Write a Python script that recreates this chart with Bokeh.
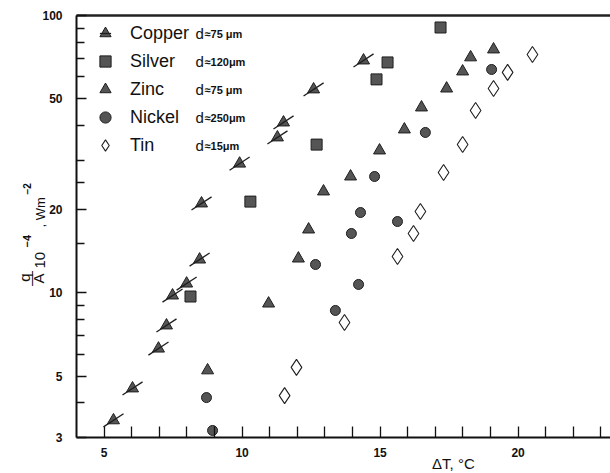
import math
from bokeh.plotting import figure
from bokeh.models import (Range1d, FixedTicker, LinearAxis, LogAxis, Label, Legend, LegendItem)
from bokeh.embed import file_html
from bokeh.resources import INLINE

# ---- data ----
copper_dt = [5.34, 6.03, 6.97, 7.26, 7.48, 7.99, 8.46, 8.53, 9.91, 11.28, 11.50, 12.59, 14.40]
copper_q = [3.46, 4.51, 6.28, 7.61, 9.76, 10.78, 13.16, 20.97, 29.2, 36.3, 41.1, 54.1, 68.8]

silver_dt = [8.13, 10.30, 12.70, 14.87, 15.27, 17.19]
silver_q = [9.68, 21.3, 34.2, 58.8, 67.7, 90.5]

zinc_dt = [8.75, 10.96, 12.04, 12.41, 12.95, 13.93, 14.98, 15.88, 16.50, 17.41, 17.99, 18.28, 19.11]
zinc_q = [5.24, 9.13, 13.27, 16.89, 23.17, 26.24, 32.57, 38.78, 46.56, 54.5, 62.8, 70.6, 75.4]

nickel_dt = [8.71, 8.93, 13.38, 14.22, 12.66, 13.96, 14.29, 15.63, 14.80, 16.64, 19.04]
nickel_q = [4.18, 3.18, 8.62, 10.70, 12.63, 16.34, 19.45, 18.05, 26.24, 37.83, 63.85]

tin_dt = [11.54, 11.97, 13.71, 15.63, 16.21, 16.46, 17.30, 17.99, 18.46, 19.11, 19.62, 20.52]
tin_q = [4.25, 5.37, 7.80, 13.50, 16.34, 19.62, 27.13, 34.23, 45.41, 54.5, 62.3, 72.3]

series_names = ["Copper", "Silver", "Zinc", "Nickel", "Tin"]
thickness_labels = ["75 μm", "120μm", "75 μm", "250μm", "15μm"]

x_ticks = [5, 10, 15, 20]
x_minor = [6, 7, 8, 9, 11, 12, 13, 14, 16, 17, 18, 19, 21, 22, 23]
y_ticks = [3, 5, 10, 20, 50, 100]
y_minor = [4, 6, 7, 8, 9, 15, 25, 30, 40, 60, 70, 80, 90]

X_MIN, X_MAX = 4.0, 23.35
Y_MIN, Y_MAX = 3, 100

FONT = "Liberation Sans"
FILL = "#555555"
EDGE = "#1e1e1e"
INK = "#111111"

# frame covers the whole canvas; axes are drawn at fixed data locations
p = figure(width=610, height=473, y_axis_type="log",
           x_range=Range1d(1.2464, 23.348), y_range=Range1d(2.2243, 113.25),
           x_axis_location=None, y_axis_location=None,
           output_backend="svg", toolbar_location=None,
           min_border_left=0, min_border_right=0,
           min_border_top=0, min_border_bottom=0)
p.outline_line_color = None
p.xgrid.visible = False
p.ygrid.visible = False
p.background_fill_color = "white"
p.border_fill_color = "white"

xa = LinearAxis(fixed_location=Y_MIN, bounds=(X_MIN, X_MAX),
                ticker=FixedTicker(ticks=x_ticks, minor_ticks=x_minor))
ya = LogAxis(fixed_location=X_MIN, bounds=(Y_MIN, Y_MAX),
             ticker=FixedTicker(ticks=y_ticks, minor_ticks=y_minor))
for ax in (xa, ya):
    ax.axis_line_width = 2
    ax.axis_line_color = INK
    ax.major_tick_out = 0
    ax.minor_tick_out = 0
    ax.major_tick_line_color = INK
    ax.minor_tick_line_color = INK
    ax.major_tick_line_width = 1.3
    ax.minor_tick_line_width = 1.3
    ax.major_label_text_font = FONT
    ax.major_label_text_font_style = "bold"
    ax.major_label_text_font_size = "12px"
    ax.major_label_text_color = INK
xa.major_tick_in = 11
xa.minor_tick_in = 11
xa.major_label_standoff = 11
ya.major_tick_in = 10
ya.minor_tick_in = 8
ya.major_label_standoff = 14
p.add_layout(xa, "below")
p.add_layout(ya, "left")

top = LinearAxis(fixed_location=Y_MAX, bounds=(X_MIN, X_MAX),
                 ticker=FixedTicker(ticks=[]), axis_line_width=2.5,
                 axis_line_color="#222222", major_tick_in=0, major_tick_out=0,
                 minor_tick_in=0, minor_tick_out=0, major_label_standoff=0)
p.add_layout(top, "above")

# data marks
r_cu = p.scatter(copper_dt, copper_q, marker="triangle", size=12,
                 fill_color=FILL, line_color=EDGE, line_width=1)
r_cu_l = p.scatter(copper_dt, copper_q, marker="dash", size=24, angle=0.58,
                   line_color=EDGE, line_width=1.3)
r_ag = p.scatter(silver_dt, silver_q, marker="square", size=11,
                 fill_color=FILL, line_color=EDGE, line_width=1)
r_zn = p.scatter(zinc_dt, zinc_q, marker="triangle", size=12,
                 fill_color=FILL, line_color=EDGE, line_width=1)
r_ni = p.scatter(nickel_dt, nickel_q, marker="circle", size=10,
                 fill_color=FILL, line_color=EDGE, line_width=1)
r_sn = p.scatter(tin_dt, tin_q, marker="diamond", size=16,
                 fill_color="white", line_color=EDGE, line_width=1.1)

# legend box: bottom-left corner at screen (80, 159) -> frame coords from bottom-left
legend = Legend(items=[
    LegendItem(label=series_names[0], renderers=[r_cu, r_cu_l]),
    LegendItem(label=series_names[1], renderers=[r_ag]),
    LegendItem(label=series_names[2], renderers=[r_zn]),
    LegendItem(label=series_names[3], renderers=[r_ni]),
    LegendItem(label=series_names[4], renderers=[r_sn]),
], location=(80, 473 - 159), margin=0, padding=0, spacing=0,
    glyph_width=50, glyph_height=28, label_standoff=-3,
    border_line_color=None, background_fill_alpha=0,
    label_text_font=FONT, label_text_font_size="18px", label_text_color=INK)
p.add_layout(legend)


# helper for labels anchored at the axes corner (screen 76,437)
def lab(text, sx, sy, size, align="left", baseline="alphabetic", angle=math.pi / 2, style="normal"):
    p.add_layout(Label(x=X_MIN, y=Y_MIN, x_offset=sx - 76, y_offset=437 - sy, text=text,
                       angle=angle, text_font=FONT, text_font_size=size,
                       text_font_style=style, text_color=INK,
                       text_align=align, text_baseline=baseline))


# thickness column of the legend
for i, t in enumerate(thickness_labels):
    sy = 33 + 28 * i
    lab("d", 195, sy, "15px", baseline="middle", angle=0)
    lab("≈" + t, 204, sy + 1, "11px", baseline="middle", angle=0, style="bold")

# y-axis title: q/A 10^-4 , Wm^-2
lab("q", 24, 277, "15px", align="center", baseline="middle")
lab("—", 30, 278, "15px", align="center", baseline="middle")
lab("A", 38, 278, "15px", align="center", baseline="middle")
lab("10", 40, 268, "15px")
lab("−4", 27, 247, "11px", style="bold")
lab(", Wm", 40, 227, "13px")
lab("−2", 27, 194, "10px", style="bold")

# x-axis title
lab("ΔT,  °C", 455, 463, "15px", align="center", baseline="middle", angle=0)

open("out.html", "w").write(file_html(p, INLINE))
